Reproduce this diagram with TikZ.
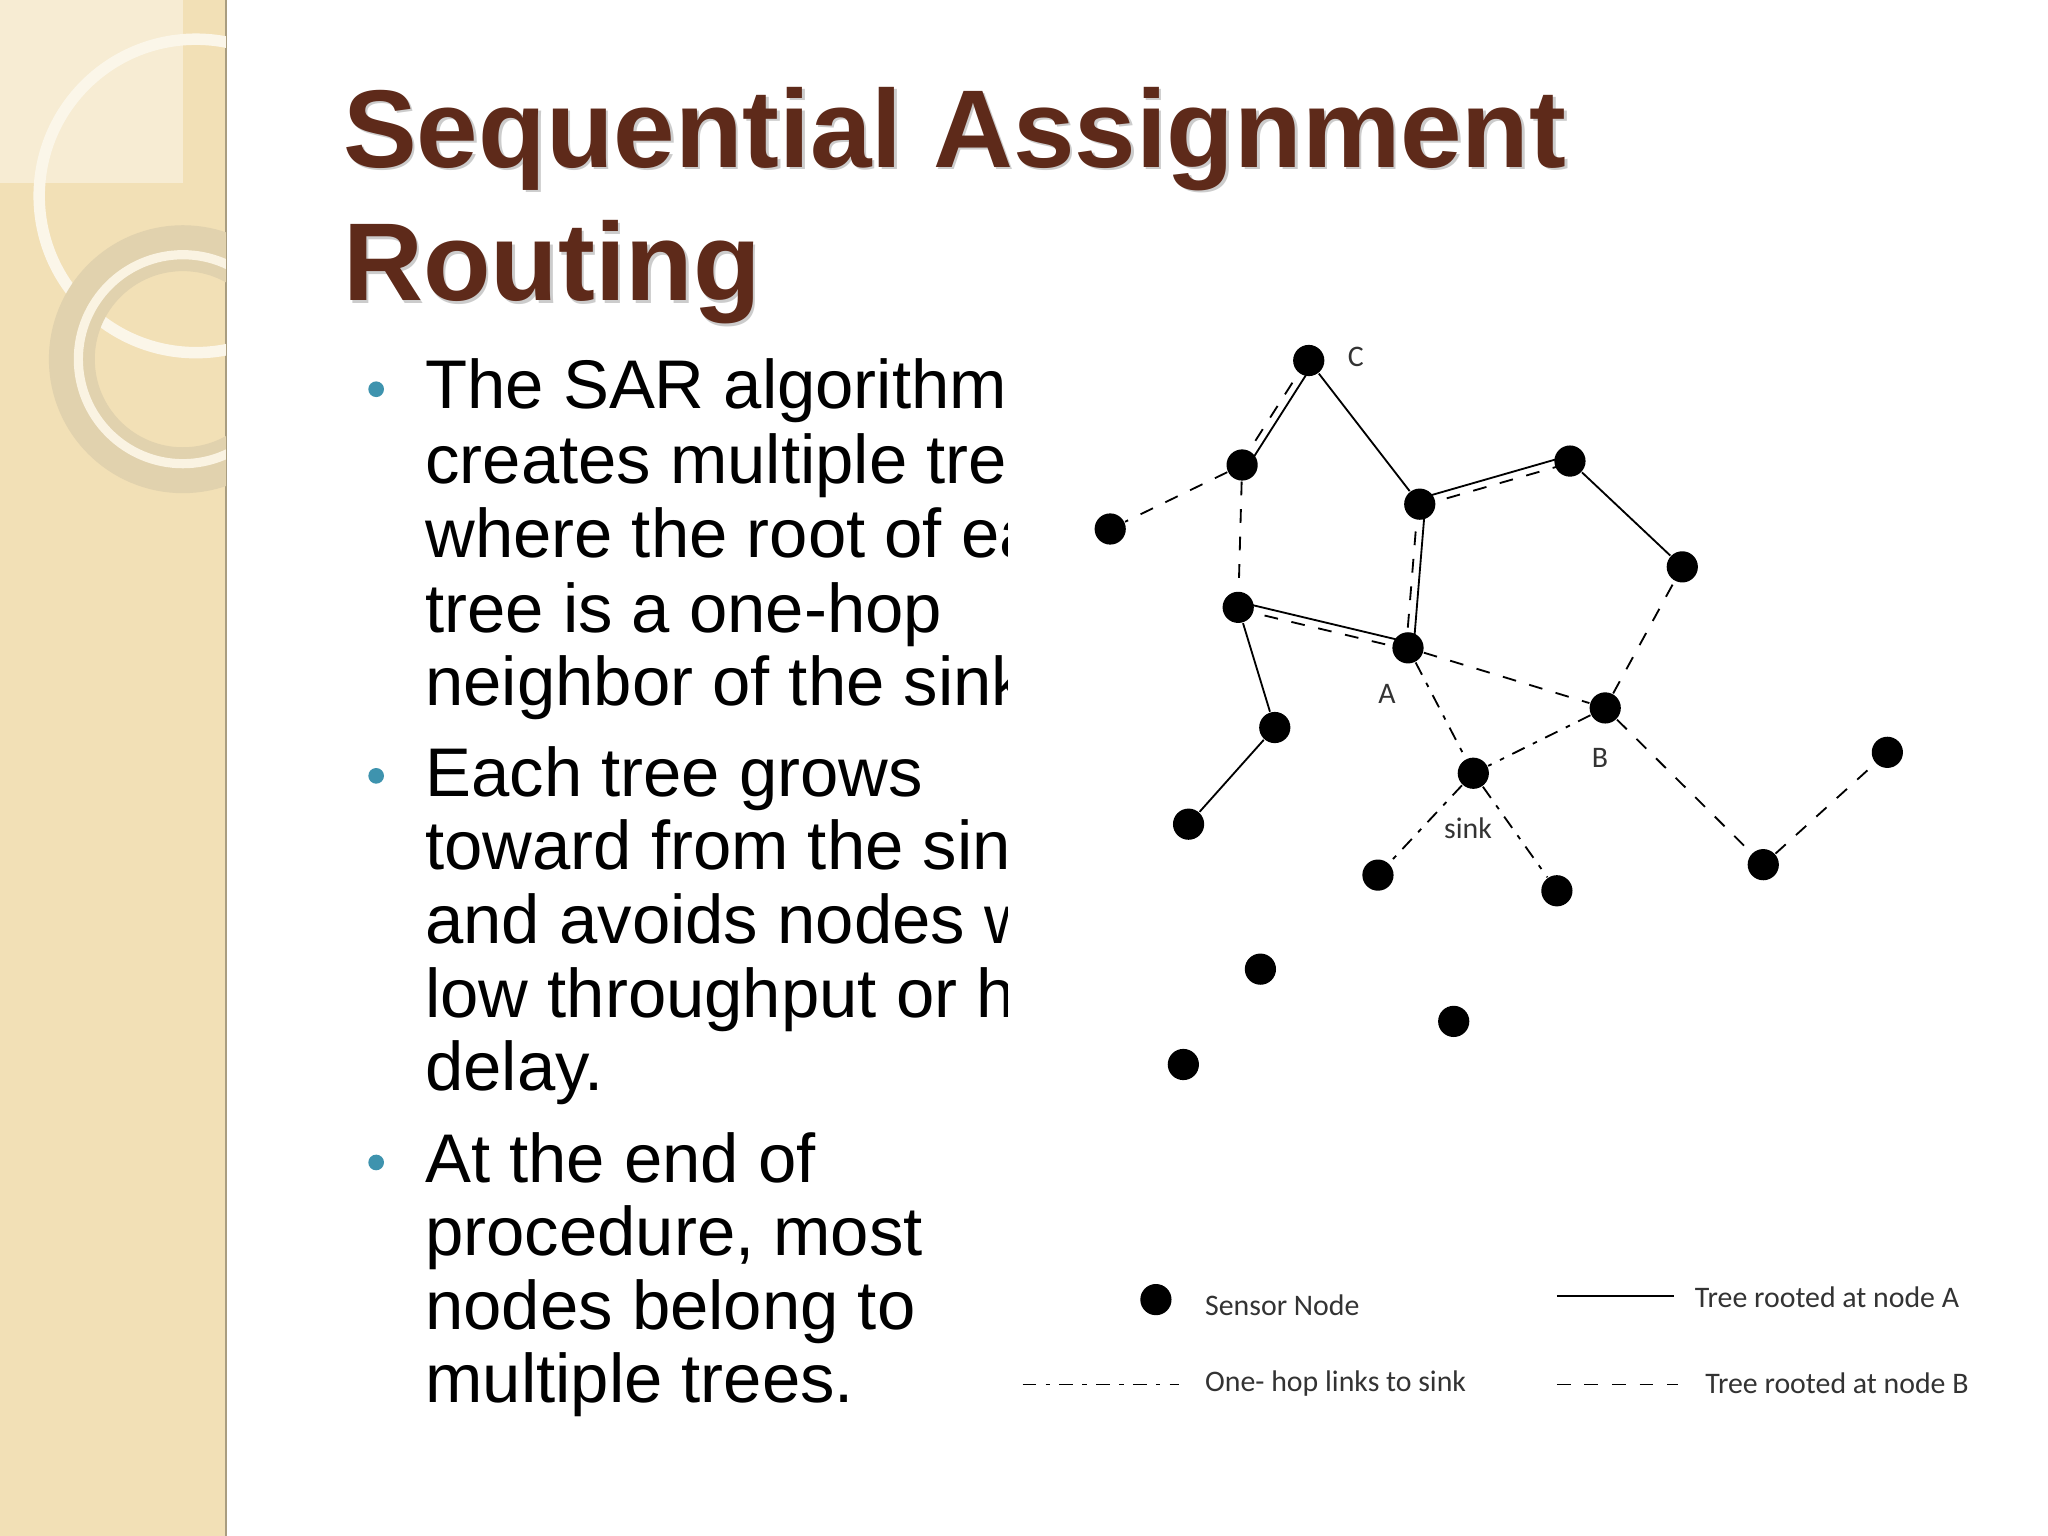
\documentclass[tikz,border=0pt]{standalone}
\usepackage{fontspec}
\setmainfont{Liberation Sans}
\newfontfamily\carlfont{Carlito}
\usetikzlibrary{calc}
\definecolor{brn}{HTML}{5E2A1A}
\definecolor{beige}{HTML}{F2E0B6}
\definecolor{teal1}{HTML}{3E93AE}
\tikzset{sn/.style={circle,fill=black,inner sep=0pt,minimum size=6.8pt},
 lab/.style={font=\carlfont\fontsize{6.5}{7}\selectfont,text=black!80,inner sep=0pt},
 bt/.style={anchor=base west,inner sep=0pt,font=\fontsize{15}{16}\selectfont},
 tt/.style={anchor=base west,inner sep=0pt,font=\bfseries\fontsize{24.1}{28}\selectfont,text=brn},
 onehop/.style={dash pattern=on 3pt off 2pt on 1pt off 2pt,thin},
 trb/.style={dashed,thin}, tra/.style={thin}}
\begin{document}
\begin{tikzpicture}[x=0.1mm,y=-0.1mm]
\useasboundingbox (0,0) rectangle (1568,1176);
\fill[white] (0,0) rectangle (1568,1176);
% left strip
\fill[beige] (0,0) rectangle (173,1176);
\fill[beige!60!white] (0,0) rectangle (140,140);
\draw[beige!70!black,line width=0.6pt] (173,0) -- (173,1176);
\begin{scope}
\clip (0,0) rectangle (173,1176);
\draw[white!70!beige,line width=2.5pt] (150,150) circle (120);
\draw[beige!85!gray,line width=10pt] (140,275) circle (85);
\draw[white!60!beige,line width=2pt] (140,275) circle (80);
\end{scope}
% title
\node[tt,text=black!20] (t1s) at (264,130) {Sequential Assignment};
\node[tt,text=black!20] (t2s) at (264,232) {Routing};
\node[tt] (t1) at (262,128) {Sequential Assignment};
\node[tt] (t2) at (262,230) {Routing};
% bullets
\foreach \y in {298,594,890} \fill[teal1] (288,\y) circle (6);
\begin{scope}
\clip (300,250) rectangle (771,1100);
\node[bt] (b1) at (325,313) {The SAR algorithm};
\node[bt] (b2) at (325,370) {creates multiple trees};
\node[bt] (b3) at (325,427) {where the root of each};
\node[bt] (b4) at (325,484) {tree is a one-hop};
\node[bt] (b5) at (325,540) {neighbor of the sink.};
\node[bt] (b6) at (325,610) {Each tree grows};
\node[bt] (b7) at (325,666) {toward from the sink};
\node[bt] (b8) at (325,722) {and avoids nodes with};
\node[bt] (b9) at (325,779) {low throughput or high};
\node[bt] (b10) at (325,835) {delay.};
\end{scope}
\node[bt] (b11) at (325,905) {At the end of};
\node[bt] (b12) at (325,961) {procedure, most};
\node[bt] (b13) at (325,1018) {nodes belong to};
\node[bt] (b14) at (325,1074) {multiple trees.};
% nodes
\node[sn] (C) at (1002,276) {};
\node[sn] (n1) at (951,356) {};
\node[sn] (n2) at (850,405) {};
\node[sn] (n3) at (1087,386) {};
\node[sn] (n4) at (1202,353) {};
\node[sn] (n5) at (1288,434) {};
\node[sn] (n6) at (948,465) {};
\node[sn] (A) at (1078,496) {};
\node[sn] (B) at (1229,542) {};
\node[sn] (n7) at (976,557) {};
\node[sn] (n8) at (910,631) {};
\node[sn] (sink) at (1128,592) {};
\node[sn] (n9) at (1055,670) {};
\node[sn] (n10) at (1192,682) {};
\node[sn] (n11) at (1350,662) {};
\node[sn] (n12) at (1445,576) {};
\node[sn] (n13) at (965,742) {};
\node[sn] (n14) at (1113,782) {};
\node[sn] (n15) at (906,815) {};
% solid tree A
\draw[tra] (C) -- (n3);
\draw[tra] (n4) -- (n5);
\draw[tra] (n6) -- (n7);
\draw[tra] (n7) -- (n8);
% double links
\foreach \a/\b in {C/n1,n3/n4,n3/A,n6/A}{
 \draw[tra] ($(\a)!1.2pt!90:(\b)$) -- ($(\b)!1.2pt!-90:(\a)$);
 \draw[trb] ($(\a)!-0.4pt!90:(\b)$) -- ($(\b)!-0.4pt!-90:(\a)$);
}
% tree B
\draw[trb] (n1) -- (n2);
\draw[trb] (n1) -- (n6);
\draw[trb] (A) -- (B);
\draw[trb] (B) -- (n5);
\draw[trb] (B) -- (n11);
\draw[trb] (n11) -- (n12);
% one-hop
\draw[onehop] (A) -- (sink);
\draw[onehop] (B) -- (sink);
\draw[onehop] (sink) -- (n9);
\draw[onehop] (sink) -- (n10);
% labels
\node[lab] (lC) at (1038,273) {C};
\node[lab] (lA) at (1062,531) {A};
\node[lab] (lB) at (1225,580) {B};
\node[lab] (ls) at (1124,634) {sink};
% legend
\node[sn] (lg1) at (885,995) {};
\node[lab,anchor=west] (lt1) at (922,999) {Sensor Node};
\coordinate (la1) at (1192,992); \coordinate (la2) at (1282,992);
\draw[tra] (la1) -- (la2);
\node[lab,anchor=west] (lt2) at (1297,993) {Tree rooted at node A};
\coordinate (lo1) at (783,1060); \coordinate (lo2) at (903,1060);
\draw[onehop] (lo1) -- (lo2);
\node[lab,anchor=west] (lt3) at (922,1059) {One- hop links to sink};
\coordinate (lb1) at (1192,1060); \coordinate (lb2) at (1285,1060);
\draw[trb] (lb1) -- (lb2);
\node[lab,anchor=west] (lt4) at (1305,1059) {Tree rooted at node B};
\end{tikzpicture}
\end{document}
